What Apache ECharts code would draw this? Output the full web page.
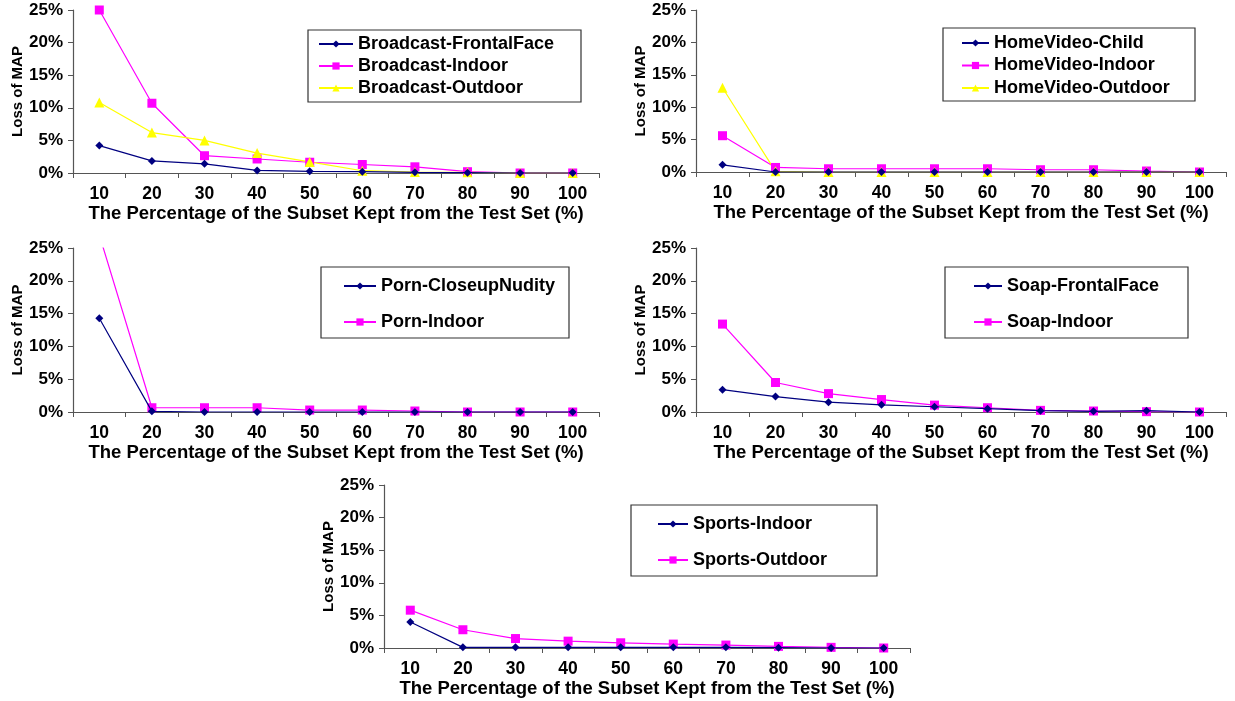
<!DOCTYPE html>
<html>
<head>
<meta charset="utf-8">
<title>Loss of MAP</title>
<script src="https://cdn.jsdelivr.net/npm/echarts@6/dist/echarts.min.js"></script>
<style>
    html, body { margin: 0; padding: 0; background: #ffffff; }
    #main { width: 1235px; height: 701px; }
</style>
</head>
<body>
<div id="main"></div>
<script>
// percentage of the subset kept from the test set
const categories = ['10', '20', '30', '40', '50', '60', '70', '80', '90', '100'];

// loss of MAP (%)
const broadcast_frontal_face = [4.2, 1.85, 1.4, 0.4, 0.25, 0.2, 0.1, 0.05, 0, 0];
const broadcast_indoor = [25, 10.7, 2.65, 2.15, 1.65, 1.3, 0.95, 0.2, 0, 0];
const broadcast_outdoor = [10.8, 6.2, 5.0, 3.05, 1.7, 0.35, 0.15, 0.1, 0, 0];

const home_video_child = [1.1, 0, 0, 0, 0, 0, 0, 0, 0, 0];
const home_video_indoor = [5.6, 0.7, 0.5, 0.5, 0.5, 0.5, 0.35, 0.35, 0.15, 0];
const home_video_outdoor = [13.0, 0.1, 0, 0, 0, 0, 0, 0, 0, 0];

const porn_closeup_nudity = [14.3, 0.1, 0, 0, 0, 0, 0, 0, 0, 0];
const porn_indoor = [27, 0.65, 0.65, 0.65, 0.3, 0.3, 0.15, 0, 0, 0];

const soap_frontal_face = [3.4, 2.35, 1.5, 1.1, 0.8, 0.5, 0.2, 0.1, 0.2, 0];
const soap_indoor = [13.4, 4.5, 2.8, 1.9, 1.05, 0.65, 0.25, 0.15, 0.05, 0];

const sports_indoor = [4.0, 0.1, 0.1, 0.1, 0.1, 0.1, 0.1, 0.05, 0, 0];
const sports_outdoor = [5.8, 2.8, 1.45, 1.05, 0.8, 0.6, 0.45, 0.25, 0.1, 0];

const FONT = '"Liberation Sans", Arial, sans-serif';
const NAVY = '#000080';
const MAGENTA = '#ff00ff';
const YELLOW = '#ffff00';
const AXIS_COLOR = '#555555';

// panel boxes: left, top, width, height
const panels = [
    [73, 10, 526, 163],
    [696, 10, 530, 162],
    [73, 248, 526, 164],
    [696, 248, 530, 164],
    [384, 485, 526, 163]
];

function make_grid(p) {
    return {left: p[0], top: p[1], width: p[2], height: p[3], containLabel: false};
}

function make_x_axis(i) {
    return {
        type: 'category',
        gridIndex: i,
        data: categories,
        boundaryGap: true,
        name: 'The Percentage of the Subset Kept from the Test Set (%)',
        nameLocation: 'middle',
        nameGap: 31,
        nameTextStyle: {fontFamily: FONT, fontSize: 18.5, fontWeight: 'bold', color: '#000'},
        axisLine: {lineStyle: {color: AXIS_COLOR, width: 1.2}},
        axisTick: {show: true, length: 5, alignWithLabel: false, lineStyle: {color: AXIS_COLOR}},
        axisLabel: {fontFamily: FONT, fontSize: 17.5, fontWeight: 'bold', color: '#000', margin: 12, interval: 0},
        splitLine: {show: false}
    };
}

function make_y_axis(i) {
    return {
        type: 'value',
        gridIndex: i,
        min: 0,
        max: 25,
        interval: 5,
        name: 'Loss of MAP',
        nameLocation: 'middle',
        nameGap: 47,
        nameRotate: 90,
        nameTextStyle: {fontFamily: FONT, fontSize: 15, fontWeight: 'bold', color: '#000'},
        axisLine: {show: true, lineStyle: {color: AXIS_COLOR, width: 1.2}},
        axisTick: {show: true, length: 5, lineStyle: {color: AXIS_COLOR}},
        axisLabel: {fontFamily: FONT, fontSize: 17, fontWeight: 'bold', color: '#000', margin: 10, formatter: '{value}%'},
        splitLine: {show: false}
    };
}

function make_series(name, data, i, kind) {
    const styles = {
        diamond: {color: NAVY, symbol: 'diamond', size: 8},
        square: {color: MAGENTA, symbol: 'rect', size: 9},
        triangle: {color: YELLOW, symbol: 'triangle', size: 10}
    };
    const s = styles[kind];
    return {
        name: name,
        type: 'line',
        xAxisIndex: i,
        yAxisIndex: i,
        data: data,
        symbol: s.symbol,
        symbolSize: s.size,
        showAllSymbol: true,
        clip: true,
        z: kind === 'diamond' ? 3 : 2,
        lineStyle: {color: s.color, width: 1.2},
        itemStyle: {color: s.color, borderWidth: 0},
        emphasis: {disabled: true},
        animation: false
    };
}

function make_legend(names, left, top, padding, item_gap, item_width, text_width) {
    return {
        data: names,
        orient: 'vertical',
        left: left,
        top: top,
        padding: padding,
        itemGap: item_gap,
        itemWidth: item_width,
        itemHeight: 9,
        borderColor: '#333333',
        borderWidth: 1.2,
        selectedMode: false,
        textStyle: {
            fontFamily: FONT, fontSize: 18, fontWeight: 'bold', color: '#000',
            lineHeight: 20, width: text_width
        }
    };
}

let myChart = echarts.init(document.getElementById('main'), null, {renderer: 'canvas'});

const series = [
    make_series('Broadcast-FrontalFace', broadcast_frontal_face, 0, 'diamond'),
    make_series('Broadcast-Indoor', broadcast_indoor, 0, 'square'),
    make_series('Broadcast-Outdoor', broadcast_outdoor, 0, 'triangle'),
    make_series('HomeVideo-Child', home_video_child, 1, 'diamond'),
    make_series('HomeVideo-Indoor', home_video_indoor, 1, 'square'),
    make_series('HomeVideo-Outdoor', home_video_outdoor, 1, 'triangle'),
    make_series('Porn-CloseupNudity', porn_closeup_nudity, 2, 'diamond'),
    make_series('Porn-Indoor', porn_indoor, 2, 'square'),
    make_series('Soap-FrontalFace', soap_frontal_face, 3, 'diamond'),
    make_series('Soap-Indoor', soap_indoor, 3, 'square'),
    make_series('Sports-Indoor', sports_indoor, 4, 'diamond'),
    make_series('Sports-Outdoor', sports_outdoor, 4, 'square')
];

const legends = [
    make_legend(['Broadcast-FrontalFace', 'Broadcast-Indoor', 'Broadcast-Outdoor'], 308, 30, [4, 8, 4, 10], 2, 34, 215),
    make_legend(['HomeVideo-Child', 'HomeVideo-Indoor', 'HomeVideo-Outdoor'], 943, 28, [5, 8, 3, 18], 2.5, 27, 193),
    make_legend(['Porn-CloseupNudity', 'Porn-Indoor'], 321, 267, [9, 8, 6, 22], 16, 32, 180),
    make_legend(['Soap-FrontalFace', 'Soap-Indoor'], 945, 267, [9, 8, 6, 28], 16, 28, 173),
    make_legend(['Sports-Indoor', 'Sports-Outdoor'], 631, 505, [9, 8, 6, 26], 16, 30, 176)
];

myChart.setOption({
    backgroundColor: '#ffffff',
    animation: false,
    grid: panels.map(make_grid),
    xAxis: panels.map((p, i) => make_x_axis(i)),
    yAxis: panels.map((p, i) => make_y_axis(i)),
    legend: legends,
    series: series
});
</script>
</body>
</html>
